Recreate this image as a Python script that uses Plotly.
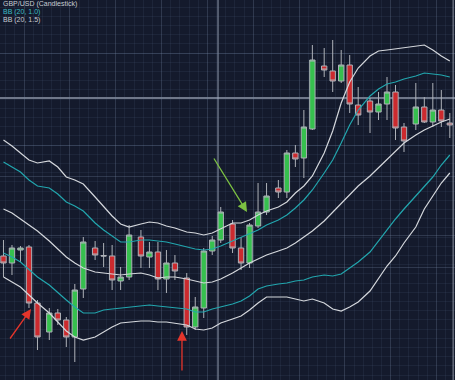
import plotly.graph_objects as go

# bar positions (5 sessions per block, small gap between blocks)
x_pos = [0, 1, 2, 3, 4,
         5.39, 6.39, 7.39, 8.39, 9.39,
         10.78, 11.78, 12.78, 13.78, 14.78,
         16.17, 17.17, 18.17, 19.17, 20.17,
         21.56, 22.56, 23.56, 24.56, 25.56,
         26.95, 27.95, 28.95, 29.95, 30.95,
         32.34, 33.34, 34.34, 35.34, 36.34,
         37.73, 38.73, 39.73, 40.73, 41.73,
         43.12, 44.12, 45.12, 46.12, 47.12,
         48.51, 49.51, 50.51, 51.51, 52.51]

open_ = [1.744, 1.737, 1.750, 1.753, 1.697, 1.668, 1.687, 1.680, 1.663, 1.711,
         1.752, 1.7445, 1.744, 1.719, 1.723, 1.763, 1.743, 1.748, 1.721, 1.737,
         1.722, 1.673, 1.692, 1.749, 1.760, 1.776, 1.752, 1.737, 1.774, 1.788,
         1.812, 1.808, 1.847, 1.842, 1.871, 1.934, 1.929, 1.919, 1.935, 1.895,
         1.899, 1.888, 1.896, 1.908, 1.873, 1.876, 1.893, 1.878, 1.890, 1.877]
high = [1.760, 1.755, 1.754, 1.755, 1.700, 1.692, 1.691, 1.683, 1.716, 1.763,
        1.759, 1.757, 1.755, 1.733, 1.775, 1.770, 1.758, 1.758, 1.750, 1.745,
        1.727, 1.703, 1.752, 1.764, 1.793, 1.780, 1.763, 1.777, 1.817, 1.817,
        1.820, 1.850, 1.855, 1.890, 1.955, 1.952, 1.960, 1.950, 1.945, 1.913,
        1.902, 1.908, 1.923, 1.915, 1.877, 1.917, 1.903, 1.917, 1.910, 1.887]
low = [1.723, 1.725, 1.738, 1.692, 1.650, 1.660, 1.675, 1.653, 1.638, 1.702,
       1.740, 1.733, 1.710, 1.710, 1.720, 1.732, 1.732, 1.710, 1.707, 1.720,
       1.665, 1.670, 1.682, 1.745, 1.757, 1.747, 1.730, 1.732, 1.772, 1.785,
       1.802, 1.802, 1.833, 1.822, 1.870, 1.923, 1.908, 1.917, 1.887, 1.875,
       1.867, 1.880, 1.880, 1.860, 1.848, 1.870, 1.877, 1.873, 1.873, 1.862]
close = [1.737, 1.752, 1.752, 1.697, 1.663, 1.687, 1.680, 1.663, 1.710, 1.758,
         1.745, 1.744, 1.720, 1.723, 1.765, 1.744, 1.748, 1.721, 1.737, 1.729,
         1.673, 1.693, 1.749, 1.760, 1.788, 1.752, 1.737, 1.775, 1.788, 1.804,
         1.808, 1.847, 1.841, 1.873, 1.940, 1.930, 1.919, 1.935, 1.896, 1.885,
         1.888, 1.896, 1.908, 1.872, 1.859, 1.893, 1.878, 1.890, 1.879, 1.875]

# Bollinger bands
bb15_upper = [1.860, 1.854, 1.847, 1.840, 1.837, 1.839, 1.833, 1.823, 1.820, 1.816,
              1.803, 1.793, 1.784, 1.776, 1.773, 1.776, 1.778, 1.777, 1.774, 1.772,
              1.768, 1.767, 1.765, 1.767, 1.771, 1.777, 1.777, 1.780, 1.785, 1.789,
              1.793, 1.798, 1.807, 1.814, 1.824, 1.847, 1.869, 1.897, 1.918, 1.932,
              1.944, 1.949, 1.950, 1.951, 1.952, 1.954, 1.955, 1.950, 1.944, 1.939]
bb10_upper = [1.838, 1.833, 1.828, 1.820, 1.814, 1.812, 1.806, 1.798, 1.794, 1.789,
              1.777, 1.770, 1.764, 1.758, 1.758, 1.760, 1.760, 1.759, 1.758, 1.756,
              1.753, 1.751, 1.750, 1.751, 1.754, 1.759, 1.763, 1.766, 1.770, 1.775,
              1.780, 1.785, 1.792, 1.800, 1.810, 1.827, 1.840, 1.857, 1.875, 1.890,
              1.904, 1.911, 1.916, 1.918, 1.921, 1.924, 1.927, 1.926, 1.925, 1.923]
bb_mid = [1.791, 1.787, 1.781, 1.775, 1.769, 1.759, 1.751, 1.743, 1.737, 1.732,
          1.728, 1.727, 1.726, 1.725, 1.726, 1.727, 1.725, 1.722, 1.723, 1.723,
          1.721, 1.719, 1.717, 1.718, 1.721, 1.727, 1.732, 1.737, 1.741, 1.745,
          1.749, 1.752, 1.757, 1.763, 1.769, 1.779, 1.788, 1.797, 1.806, 1.814,
          1.824, 1.832, 1.840, 1.848, 1.857, 1.865, 1.870, 1.874, 1.878, 1.881]
bb10_lower = [1.747, 1.743, 1.738, 1.730, 1.723, 1.715, 1.707, 1.700, 1.693, 1.687,
              1.687, 1.690, 1.691, 1.692, 1.693, 1.694, 1.695, 1.694, 1.693, 1.692,
              1.691, 1.688, 1.688, 1.691, 1.693, 1.696, 1.699, 1.704, 1.711, 1.714,
              1.716, 1.717, 1.719, 1.720, 1.723, 1.725, 1.724, 1.726, 1.732, 1.738,
              1.748, 1.759, 1.771, 1.781, 1.791, 1.804, 1.814, 1.823, 1.835, 1.845]
bb15_lower = [1.723, 1.718, 1.713, 1.705, 1.697, 1.687, 1.678, 1.669, 1.663, 1.660,
              1.663, 1.668, 1.673, 1.677, 1.678, 1.679, 1.679, 1.678, 1.678, 1.677,
              1.675, 1.671, 1.670, 1.672, 1.677, 1.681, 1.684, 1.690, 1.697, 1.703,
              1.703, 1.703, 1.701, 1.699, 1.701, 1.697, 1.691, 1.689, 1.693, 1.698,
              1.709, 1.721, 1.734, 1.744, 1.757, 1.773, 1.791, 1.804, 1.817, 1.827]

legend_labels = ["GBP/USD (Candlestick)", "BB (20, 1.0)", "BB (20, 1.5)"]

BG = "#141a2c"
WHITE = "#d4d7dc"
TEAL = "#22a6ae"

fig = go.Figure()

for ys, col in [(bb15_upper, WHITE), (bb10_upper, TEAL), (bb10_lower, TEAL),
                (bb15_lower, WHITE), (bb_mid, WHITE)]:
    fig.add_trace(go.Scatter(x=x_pos, y=ys, mode="lines",
                             line=dict(color=col, width=1.2),
                             showlegend=False, hoverinfo="skip"))

fig.add_trace(go.Candlestick(
    x=x_pos, open=open_, high=high, low=low, close=close,
    increasing=dict(fillcolor="#36c04e", line=dict(color="#aeb2b9", width=1)),
    decreasing=dict(fillcolor="#cc2a2e", line=dict(color="#aeb2b9", width=1)),
    whiskerwidth=0, showlegend=False, hoverinfo="skip"))

# crosshair + right border
fig.add_shape(type="line", xref="paper", yref="y", x0=0, x1=1, y0=1.902, y1=1.902,
              line=dict(color="rgba(185,195,212,0.75)", width=1.5), layer="below")
fig.add_shape(type="line", xref="x", yref="paper", x0=25.24, x1=25.24, y0=0, y1=1,
              line=dict(color="rgba(160,170,190,0.6)", width=1.5), layer="below")
fig.add_shape(type="line", xref="x", yref="paper", x0=52.9, x1=52.9, y0=0, y1=1,
              line=dict(color="rgba(170,178,192,0.8)", width=1))

# legend text
leg_colors = ["#c9cdd4", "#3cbcc4", "#c9cdd4"]
for i, (t, c) in enumerate(zip(legend_labels, leg_colors)):
    fig.add_annotation(text=t, xref="paper", yref="paper", x=0.004,
                       y=1 - (4.5 + 7.8 * i) / 380, xanchor="left", yanchor="middle",
                       showarrow=False, borderpad=0,
                       font=dict(family="Liberation Sans, Arial", size=7, color=c))

# arrows
arrows = [
    dict(x=3.24, y=1.691, ax=0.65, ay=1.660, color="#e5352b"),
    dict(x=21.0, y=1.669, ax=21.0, ay=1.628, color="#e5352b"),
    dict(x=28.65, y=1.788, ax=24.65, ay=1.843, color="#7cc142"),
]
for a in arrows:
    fig.add_annotation(x=a["x"], y=a["y"], ax=a["ax"], ay=a["ay"], xref="x", yref="y",
                       axref="x", ayref="y", text="", showarrow=True, arrowhead=2,
                       arrowsize=1.5, arrowwidth=1.3, arrowcolor=a["color"])

grid_major = "rgba(120,135,165,0.28)"
grid_minor = "rgba(110,125,160,0.11)"

fig.update_layout(
    width=455, height=380,
    margin=dict(l=0, r=0, t=0, b=0),
    paper_bgcolor=BG, plot_bgcolor=BG,
    boxgap=0.1,
    showlegend=False,
    xaxis=dict(range=[-0.41, 53.12], rangeslider=dict(visible=False),
               showticklabels=False, ticks="", zeroline=False,
               tickmode="linear", tick0=7.82, dtick=5.39,
               showgrid=True, gridcolor=grid_major, gridwidth=1,
               minor=dict(tickmode="linear", tick0=7.82, dtick=1.078,
                          showgrid=True, gridcolor=grid_minor, gridwidth=1)),
    yaxis=dict(range=[1.620, 2.000], showticklabels=False, ticks="", zeroline=False,
               tickmode="array", tickvals=[1.947, 1.855, 1.824, 1.765, 1.733],
               showgrid=True, gridcolor=grid_major, gridwidth=1,
               minor=dict(tickmode="linear", tick0=1.947, dtick=0.0092,
                          showgrid=True, gridcolor=grid_minor, gridwidth=1)),
)

fig.write_html("out.html", config={"displayModeBar": False},
               post_script="document.body.style.margin='0';document.body.style.overflow='hidden';document.body.style.background='#141a2c';")
